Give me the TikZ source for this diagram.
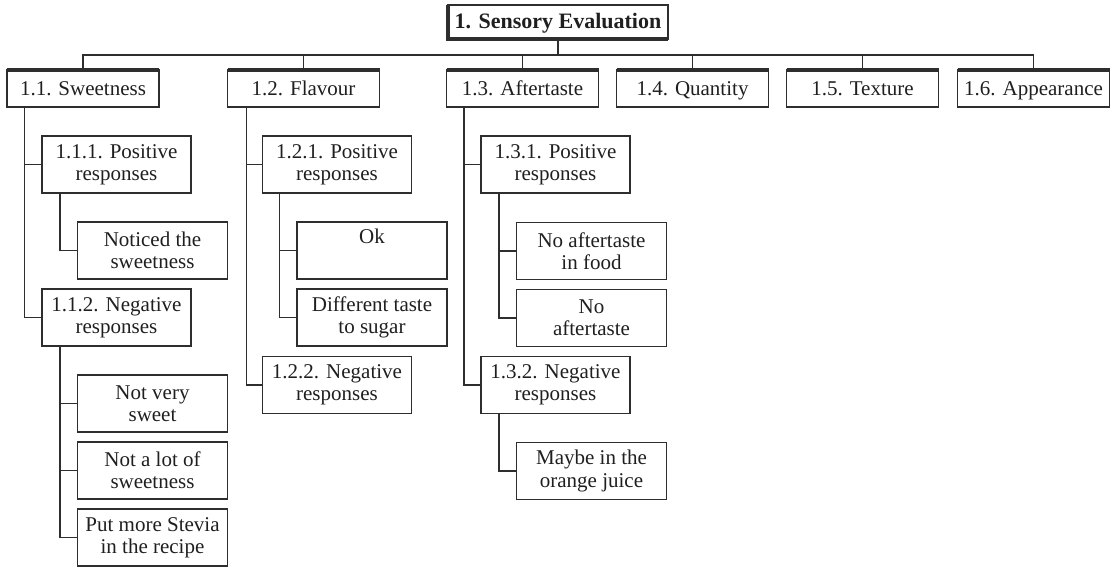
\documentclass[tikz,border=0pt]{standalone}
\usepackage{fontspec}
\setmainfont{Liberation Serif}
\usetikzlibrary{calc}
\begin{document}
\begin{tikzpicture}[x=0.5pt,y=-0.5pt,
  ink/.style={draw=black!82, line width=0.75pt},
  box/.style={ink, rectangle, align=center, inner sep=0pt, outer sep=0pt, text=black!88},
  rootbox/.style={box, minimum width=110pt, minimum height=17pt, line width=1pt,
    text height=8pt, text depth=2pt,
    font=\fontsize{11}{12}\selectfont\bfseries},
  topbox/.style={box, minimum width=76pt, minimum height=18.5pt,
    text height=8pt, text depth=1.5pt,
    font=\fontsize{10.5}{12}\selectfont},
  subbox/.style={box, minimum width=74.5pt, minimum height=28.5pt,
    font=\fontsize{10.5}{11.2}\selectfont},
  leafbox/.style={box, minimum width=75pt, minimum height=28.5pt,
    font=\fontsize{10.5}{11.2}\selectfont},
  link/.style={ink},
  heavy/.style={draw=black!82, line width=1.6pt},
]
\useasboundingbox (0,0) rectangle (1114,568);

% root
\node[rootbox] (root) at (558,22) {1. Sensory Evaluation};
\draw[heavy] (root.north west) -- (root.south west) -- (root.south east);

% first level
\node[topbox] (s1) at (83,88.5)     {1.1. Sweetness};
\node[topbox] (s2) at (303.5,88.5)  {1.2. Flavour};
\node[topbox] (s3) at (522.5,88.5)  {1.3. Aftertaste};
\node[topbox] (s4) at (692.5,88.5)  {1.4. Quantity};
\node[topbox] (s5) at (862.5,88.5)  {1.5. Texture};
\node[topbox] (s6) at (1033.5,88.5) {1.6. Appearance};
\foreach \n in {s1,s2,s3,s4,s5,s6}
  \draw[heavy] (\n.north west) -- (\n.north east);

% bus from the root to the first level
\coordinate (bus) at (0,55);
\draw[link] (root.south) -- (root.south |- bus);
\draw[link] (s1.north) -- (s1.north |- bus) -- (s6.north |- bus) -- (s6.north);
\foreach \n in {s2,s3,s4,s5}
  \draw[link] (\n.north) -- (\n.north |- bus);

% 1.1 Sweetness
\node[subbox] (s11) at (116.5,164.5) {1.1.1. Positive\\responses};
\node[subbox] (s12) at (116.5,317.5) {1.1.2. Negative\\responses};
\node[leafbox] (a1) at (152.5,250.5) {Noticed the\\sweetness};
\node[leafbox] (a2) at (152.5,403.5) {Not very\\sweet};
\node[leafbox] (a3) at (152.5,470.5) {Not a lot of\\sweetness};
\node[leafbox] (a4) at (152.5,537.5) {Put more Stevia\\in the recipe};

% 1.2 Flavour
\node[subbox] (s21) at (337,164.5) {1.2.1. Positive\\responses};
\node[subbox] (s22) at (337,385)   {1.2.2. Negative\\responses};
\node[leafbox] (b1) at (372,250.5) {Ok\\\strut};
\node[leafbox] (b2) at (372,317.5) {Different taste\\to sugar};

% 1.3 Aftertaste
\node[subbox] (s31) at (555.5,164.5) {1.3.1. Positive\\responses};
\node[subbox] (s32) at (555.5,385)   {1.3.2. Negative\\responses};
\node[leafbox] (c1) at (591.5,251) {No aftertaste\\in food};
\node[leafbox] (c2) at (591.5,318) {No\\aftertaste};
\node[leafbox] (c3) at (591.5,471) {Maybe in the\\orange juice};

% tree connectors: a spine below each parent, elbows into each child
\draw[link] ($(s1.south west)+(17.5,0)$) coordinate (t1) |- (s12.west);
\draw[link] (s11.west) -- (s11.west -| t1);
\draw[link] ($(s11.south west)+(18,0)$) |- (a1.west);
\draw[link] ($(s12.south west)+(18,0)$) coordinate (t12) |- (a4.west);
\draw[link] (a2.west) -- (a2.west -| t12);
\draw[link] (a3.west) -- (a3.west -| t12);

\draw[link] ($(s2.south west)+(19,0)$) coordinate (t2) |- (s22.west);
\draw[link] (s21.west) -- (s21.west -| t2);
\draw[link] ($(s21.south west)+(17,0)$) coordinate (t21) |- (b2.west);
\draw[link] (b1.west) -- (b1.west -| t21);

\draw[link] ($(s3.south west)+(17.5,0)$) coordinate (t3) |- (s32.west);
\draw[link] (s31.west) -- (s31.west -| t3);
\draw[link] ($(s31.south west)+(18,0)$) coordinate (t31) |- (c2.west);
\draw[link] (c1.west) -- (c1.west -| t31);
\draw[link] ($(s32.south west)+(18,0)$) |- (c3.west);
\end{tikzpicture}
\end{document}
